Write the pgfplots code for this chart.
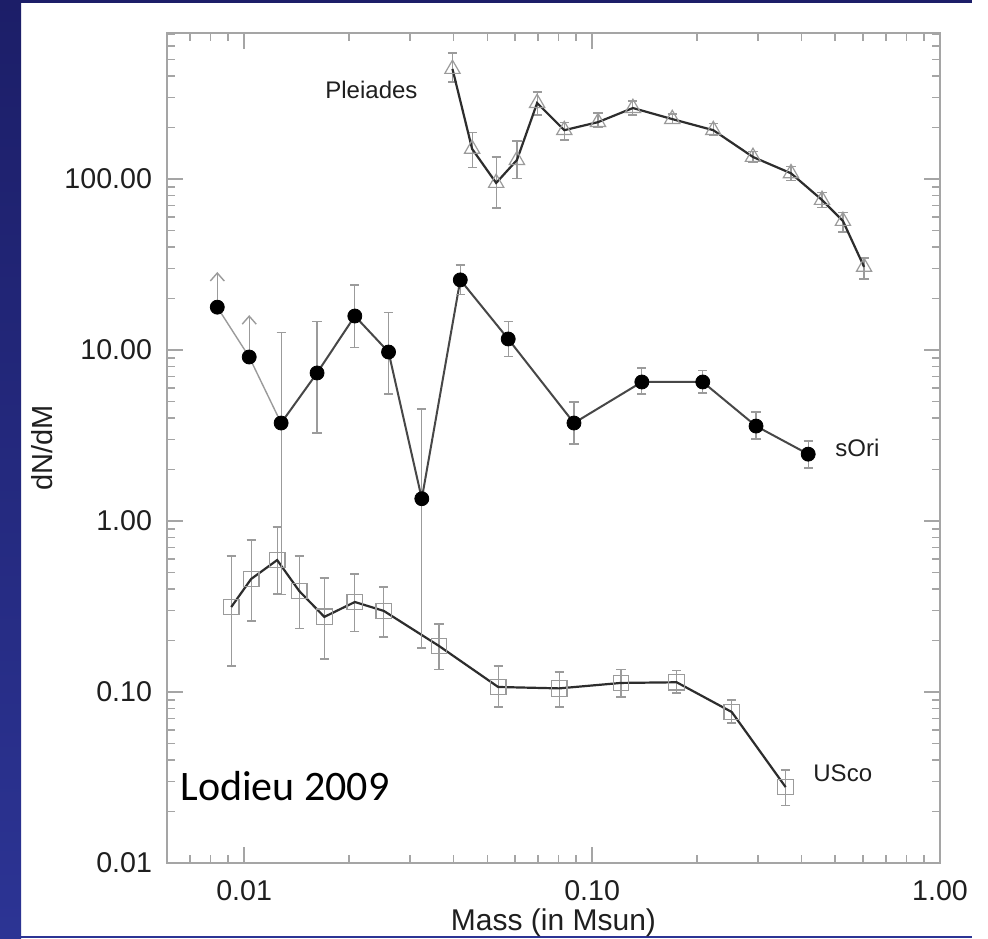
\documentclass[border=0pt]{standalone}
\usepackage{pgfplots}
\pgfplotsset{compat=1.18}
\usepackage{pgfplotstable}
\usepackage{fontspec}
\setmainfont{Liberation Sans}
\newfontfamily\calibri{Carlito}
\usetikzlibrary{arrows.meta}
\definecolor{navytop}{RGB}{28,30,104}
\definecolor{navybot}{RGB}{44,52,148}
\definecolor{errgray}{RGB}{155,155,155}
\definecolor{axgray}{RGB}{165,165,165}
\definecolor{linedark}{RGB}{45,45,45}

\pgfplotstableread{
x y ep em
0.0397 440 106 71
0.0452 150 38 33
0.0530 94.8 39.7 27.2
0.0608 129 38 28
0.0695 278 45 41
0.0832 193 22 24
0.104 215 28 16
0.131 260 26 23
0.170 224 16 14
0.223 193 17 13
0.290 134.5 10.5 9.5
0.373 108 10 10
0.458 75.4 7.6 7.4
0.526 56.8 7.2 7.8
0.605 30.6 3.9 4.6
}\pleiades

\pgfplotstableread{
x y ep em
0.01277 3.74 8.86 3.37
0.0162 7.34 7.26 4.07
0.0208 15.8 8.2 5.5
0.0260 9.73 6.77 4.2
0.0324 1.35 3.17 1.169
0.0418 25.7 5.7 4.7
0.0574 11.6 3.0 2.4
0.0887 3.74 1.22 0.92
0.139 6.50 1.35 0.97
0.208 6.50 1.1 0.9
0.296 3.59 0.75 0.57
0.418 2.46 0.48 0.42
}\sori

\pgfplotstableread{
x y ep em
0.00918 0.314 0.31 0.172
0.01047 0.458 0.316 0.198
0.01244 0.591 0.331 0.217
0.01439 0.390 0.234 0.156
0.0170 0.275 0.189 0.119
0.0208 0.336 0.154 0.109
0.0252 0.298 0.113 0.088
0.0363 0.186 0.064 0.050
0.0537 0.107 0.035 0.0253
0.0804 0.105 0.026 0.0233
0.121 0.113 0.023 0.0195
0.175 0.114 0.020 0.0153
0.252 0.0764 0.0134 0.0105
0.360 0.0278 0.0072 0.0060
}\usco

\begin{document}
\begin{tikzpicture}
\useasboundingbox (0,0) rectangle (494pt,469pt);
\clip (0,0) rectangle (494pt,469pt);
\fill[white] (0,0) rectangle (494pt,469pt);
\shade[top color=navytop,bottom color=navybot] (0,0) rectangle (10.5pt,469pt);
\fill[navytop] (0,467.6pt) rectangle (486pt,469pt);
\fill[navybot] (0,0) rectangle (486pt,0.8pt);
\begin{axis}[
  at={(83.5pt,37.5pt)}, anchor=south west,
  width=386.5pt, height=415pt, scale only axis,
  xmode=log, ymode=log,
  xmin=0.006, xmax=1, ymin=0.01, ymax=714,
  xtick={0.01,0.1,1}, xticklabels={0.01,0.10,1.00},
  ytick={0.01,0.1,1,10,100}, yticklabels={0.01,0.10,1.00,10.00,100.00},
  minor xtick={0.006,0.007,0.008,0.009,0.02,0.03,0.04,0.05,0.06,0.07,0.08,0.09,0.2,0.3,0.4,0.5,0.6,0.7,0.8,0.9},
  minor ytick={0.02,0.03,0.04,0.05,0.06,0.07,0.08,0.09,0.2,0.3,0.4,0.5,0.6,0.7,0.8,0.9,2,3,4,5,6,7,8,9,20,30,40,50,60,70,80,90,200,300,400,500,600,700},
  axis line style={axgray, line width=0.9pt},
  major tick length=8pt, minor tick length=4pt,
  every tick/.style={axgray, line width=0.8pt},
  tick align=inside, tick pos=both,
  tick label style={font=\fontsize{14.3}{16}\selectfont, text=black!88},
  xticklabel style={inner sep=1pt, yshift=-7.5pt},
  yticklabel style={xshift=-4pt},
  xlabel={Mass (in Msun)}, ylabel={dN/dM},
  xlabel style={font=\fontsize{15}{17}\selectfont, text=black!88, inner sep=0pt,
    at={(axis description cs:0.5,-0.0819)}, anchor=base},
  ylabel style={font=\fontsize{14.5}{16}\selectfont, text=black!88,
    at={(axis description cs:-0.1617,0.5)}, anchor=center},
  clip=false,
]
% Pleiades
\addplot[only marks, mark=triangle, mark size=4.4pt, mark options={errgray, line width=0.6pt},
  error bars/.cd, y dir=both, y explicit,
  error bar style={errgray, line width=0.6pt},
  error mark options={errgray, rotate=90, mark size=2.3pt, line width=0.6pt}]
  table[x=x, y=y, y error plus=ep, y error minus=em] {\pleiades};
\addplot[linedark, line width=1.1pt, no marks] table[x=x, y=y] {\pleiades};

% USco
\addplot[only marks, mark=square, mark size=3.9pt, mark options={errgray, line width=0.6pt},
  error bars/.cd, y dir=both, y explicit,
  error bar style={errgray, line width=0.6pt},
  error mark options={errgray, rotate=90, mark size=2.3pt, line width=0.6pt}]
  table[x=x, y=y, y error plus=ep, y error minus=em] {\usco};
\addplot[linedark, line width=1.1pt, no marks] table[x=x, y=y] {\usco};

% sOri
\addplot[errgray, line width=0.7pt, no marks] coordinates {(0.00837,17.8) (0.01034,9.10) (0.01277,3.74)};
\addplot[black!72, line width=1.0pt, no marks] table[x=x, y=y] {\sori};
\addplot[errgray, line width=0.7pt, -{Straight Barb[length=4pt,width=7pt]}] coordinates {(0.00837,17.8) (0.00837,28.6)};
\addplot[errgray, line width=0.7pt, -{Straight Barb[length=4pt,width=7pt]}] coordinates {(0.01034,9.10) (0.01034,16.0)};
\addplot[only marks, mark=*, mark size=3.5pt, mark options={black, fill=black},
  error bars/.cd, y dir=both, y explicit,
  error bar style={errgray, line width=0.6pt},
  error mark options={errgray, rotate=90, mark size=2.3pt, line width=0.6pt}]
  table[x=x, y=y, y error plus=ep, y error minus=em] {\sori};
\addplot[only marks, mark=*, mark size=3.5pt, mark options={black, fill=black}] coordinates {(0.00837,17.8) (0.01034,9.10)};
\end{axis}
\node[anchor=west, inner sep=0pt, font=\fontsize{12}{14}\selectfont, text=black!88] at (162.5pt,424pt) {Pleiades};
\node[anchor=west, inner sep=0pt, font=\fontsize{12}{14}\selectfont, text=black!88] at (417.5pt,245pt) {sOri};
\node[anchor=west, inner sep=0pt, font=\fontsize{12}{14}\selectfont, text=black!88] at (406.5pt,82.5pt) {USco};
\node[anchor=base west, inner sep=0pt, font=\calibri\fontsize{21}{24}\selectfont] at (90pt,69pt) {Lodieu 2009};
\end{tikzpicture}
\end{document}
